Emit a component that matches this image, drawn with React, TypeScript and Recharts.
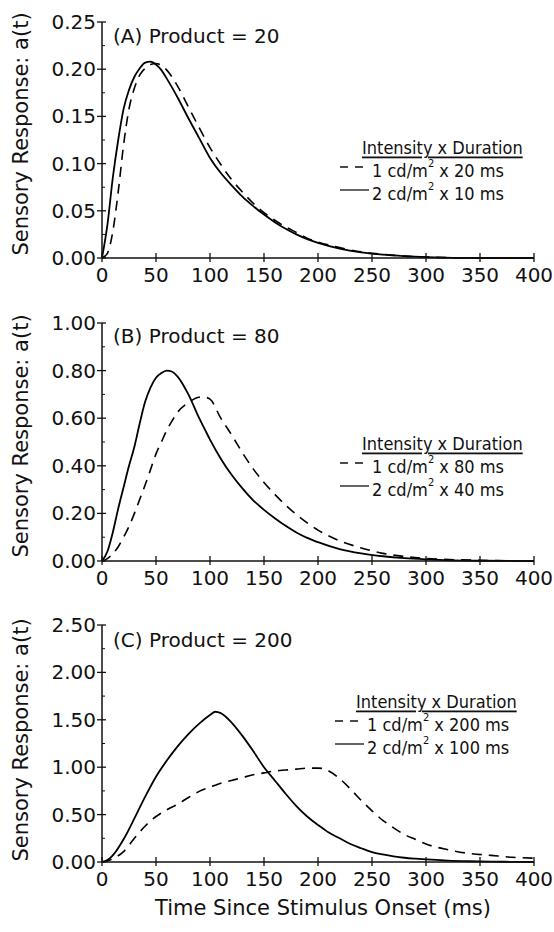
import { LineChart, Line, XAxis, YAxis } from 'recharts'

const X_TICKS = [0, 50, 100, 150, 200, 250, 300, 350, 400]

// (A) product = 20
const A_T = [0, 5, 10, 15, 20, 25, 30, 35, 40, 45, 50, 55, 60, 70, 80, 90, 100, 110, 120, 130, 140, 150, 160, 170, 180, 190, 200, 220, 240, 260, 280, 300, 350, 400]
const A_SOLID = [0, 0.035, 0.085, 0.125, 0.158, 0.178, 0.192, 0.201, 0.207, 0.208, 0.205, 0.199, 0.19, 0.17, 0.148, 0.127, 0.106, 0.09, 0.077, 0.065, 0.055, 0.046, 0.038, 0.031, 0.025, 0.02, 0.016, 0.01, 0.006, 0.0035, 0.002, 0.001, 0, 0]
const A_DASHED = [0, 0.005, 0.028, 0.07, 0.12, 0.158, 0.18, 0.194, 0.201, 0.205, 0.206, 0.204, 0.199, 0.182, 0.16, 0.138, 0.117, 0.099, 0.083, 0.07, 0.058, 0.048, 0.04, 0.033, 0.027, 0.021, 0.017, 0.011, 0.0065, 0.004, 0.002, 0.001, 0, 0]
const A_Y_TICKS = [0, 0.025, 0.05, 0.075, 0.1, 0.125, 0.15, 0.175, 0.2, 0.225, 0.25]

// (B) product = 80
const B_T = [0, 5, 10, 15, 20, 25, 30, 35, 40, 45, 50, 55, 60, 65, 70, 80, 90, 95, 100, 110, 120, 130, 140, 150, 160, 170, 180, 190, 200, 220, 240, 260, 280, 300, 350, 400]
const B_SOLID = [0, 0.04, 0.12, 0.22, 0.31, 0.4, 0.48, 0.58, 0.67, 0.73, 0.77, 0.79, 0.8, 0.795, 0.775, 0.7, 0.6, 0.555, 0.51, 0.43, 0.362, 0.305, 0.255, 0.215, 0.18, 0.148, 0.12, 0.097, 0.079, 0.05, 0.032, 0.02, 0.012, 0.007, 0.001, 0]
const B_DASHED = [0, 0.01, 0.03, 0.06, 0.1, 0.145, 0.2, 0.26, 0.32, 0.385, 0.45, 0.5, 0.55, 0.59, 0.625, 0.665, 0.688, 0.688, 0.68, 0.6, 0.53, 0.455, 0.387, 0.33, 0.28, 0.235, 0.195, 0.16, 0.13, 0.085, 0.055, 0.032, 0.019, 0.011, 0.003, 0]
const B_Y_TICKS = [0, 0.1, 0.2, 0.3, 0.4, 0.5, 0.6, 0.7, 0.8, 0.9, 1.0]

// (C) product = 200
const C_T = [0, 5, 10, 20, 30, 40, 50, 60, 70, 80, 90, 100, 105, 110, 120, 130, 140, 150, 160, 170, 180, 190, 200, 205, 210, 220, 230, 240, 250, 260, 270, 280, 290, 300, 320, 340, 360, 380, 400]
const C_SOLID = [0, 0.02, 0.07, 0.24, 0.46, 0.69, 0.9, 1.07, 1.22, 1.35, 1.46, 1.55, 1.585, 1.57, 1.47, 1.33, 1.17, 1.0, 0.86, 0.72, 0.59, 0.48, 0.39, 0.35, 0.31, 0.25, 0.19, 0.145, 0.105, 0.08, 0.06, 0.045, 0.035, 0.027, 0.015, 0.008, 0.004, 0.002, 0]
const C_DASHED = [0, 0.01, 0.035, 0.11, 0.25, 0.38, 0.48, 0.55, 0.61, 0.68, 0.745, 0.79, 0.81, 0.83, 0.86, 0.89, 0.92, 0.94, 0.96, 0.97, 0.98, 0.99, 0.99, 0.985, 0.96, 0.88, 0.77, 0.65, 0.54, 0.44, 0.36, 0.29, 0.24, 0.19, 0.13, 0.09, 0.07, 0.05, 0.04]
const C_Y_TICKS = [0, 0.25, 0.5, 0.75, 1.0, 1.25, 1.5, 1.75, 2.0, 2.25, 2.5]

const FONT = "'DejaVu Sans', 'Liberation Sans', sans-serif"
const LEG_FONT = "'DejaVu Sans Condensed', 'DejaVu Sans', sans-serif"
const INK = '#111'

function XTick(props: any) {
  const { x, y, payload } = props
  return (
    <g>
      <line x1={x} x2={x} y1={y - 5} y2={y + 4} stroke={INK} strokeWidth={1.3} />
      <text x={x} y={y + 17} textAnchor="middle" dominantBaseline="central" fontSize={20} fontFamily={FONT} fill={INK}>
        {payload.value}
      </text>
    </g>
  )
}

function isMajor(v: number, step: number) {
  const r = v / step
  return Math.abs(r - Math.round(r)) < 1e-6
}

function LeftTick(props: any) {
  const { x, y, payload, step } = props
  if (!isMajor(payload.value, step)) {
    return <line x1={x} x2={x + 3} y1={y} y2={y} stroke={INK} strokeWidth={1} />
  }
  return (
    <g>
      <line x1={x - 5} x2={x + 4} y1={y} y2={y} stroke={INK} strokeWidth={1.3} />
      <text x={x - 6} y={y} textAnchor="end" dominantBaseline="central" fontSize={20} fontFamily={FONT} fill={INK}>
        {payload.value.toFixed(2)}
      </text>
    </g>
  )
}

function RightTick(props: any) {
  const { x, y, payload, step } = props
  const len = isMajor(payload.value, step) ? 4 : 2.5
  return <line x1={x - len} x2={x} y1={y} y2={y} stroke={INK} strokeWidth={1} />
}

type PanelProps = {
  top: number
  plotTop: number
  plotBottom: number
  t: number[]
  solid: number[]
  dashed: number[]
  yMax: number
  yStep: number
  yTicks: number[]
}

function Panel({ top, plotTop, plotBottom, t, solid, dashed, yMax, yStep, yTicks }: PanelProps) {
  const data = t.map((time, i) => ({ t: time, solid: solid[i], dashed: dashed[i] }))
  const xAxisH = 30
  const height = plotBottom - top + xAxisH + 2
  return (
    <div style={{ position: 'absolute', left: 0, top, width: 554, height }}>
      <LineChart width={554} height={height} data={data} margin={{ top: plotTop - top, right: 20, bottom: 2, left: 0 }}>
        <XAxis
          xAxisId="b"
          dataKey="t"
          type="number"
          domain={[0, 400]}
          ticks={X_TICKS}
          interval={0}
          tickSize={0}
          tickMargin={0}
          tickLine={false}
          tick={(p: any) => <XTick {...p} />}
          axisLine={{ stroke: INK, strokeWidth: 1.5 }}
          height={xAxisH}
        />
        <XAxis
          xAxisId="top"
          orientation="top"
          dataKey="t"
          type="number"
          domain={[0, 400]}
          height={0}
          tick={false}
          tickLine={false}
          axisLine={{ stroke: INK, strokeWidth: 1.2 }}
        />
        <YAxis
          yAxisId="l"
          type="number"
          domain={[0, yMax]}
          ticks={yTicks}
          interval={0}
          width={102}
          tickSize={0}
          tickMargin={0}
          tickLine={false}
          tick={(p: any) => <LeftTick {...p} step={yStep} />}
          axisLine={{ stroke: INK, strokeWidth: 1.5 }}
        />
        <YAxis
          yAxisId="r"
          orientation="right"
          type="number"
          domain={[0, yMax]}
          ticks={yTicks}
          interval={0}
          width={0}
          tickSize={0}
          tickMargin={0}
          tickLine={false}
          tick={(p: any) => <RightTick {...p} step={yStep} />}
          axisLine={{ stroke: INK, strokeWidth: 1.2 }}
        />
        <Line
          xAxisId="b"
          yAxisId="l"
          type="monotone"
          dataKey="dashed"
          stroke="#000"
          strokeWidth={1.6}
          strokeDasharray="10 7"
          dot={false}
          isAnimationActive={false}
        />
        <Line
          xAxisId="b"
          yAxisId="l"
          type="monotone"
          dataKey="solid"
          stroke="#000"
          strokeWidth={1.8}
          dot={false}
          isAnimationActive={false}
        />
      </LineChart>
    </div>
  )
}

function YTitle({ cy }: { cy: number }) {
  const cx = 21
  return (
    <text x={cx} y={cy} transform={`rotate(-90 ${cx} ${cy})`} textAnchor="middle" dominantBaseline="central" fontSize={21} fontFamily={FONT} fill={INK}>
      Sensory Response: a(t)
    </text>
  )
}

function LegendBlock({ x, y, titleX, rows }: { x: number; y: number; titleX: number; rows: [string, string] }) {
  const r1 = y + 23
  const r2 = y + 46
  return (
    <g fontFamily={LEG_FONT} fontSize={18} fill={INK}>
      <text x={titleX} y={y} dominantBaseline="central" textDecoration="underline">
        Intensity x Duration
      </text>
      <line x1={x} x2={x + 29} y1={r1 - 3} y2={r1 - 3} stroke={INK} strokeWidth={1.3} strokeDasharray="8 7" />
      <text x={x + 32} y={r1} dominantBaseline="central">
        1 cd/m<tspan dy={-7} fontSize={11}>2</tspan>
        <tspan dy={7}> x {rows[0]} ms</tspan>
      </text>
      <line x1={x} x2={x + 29} y1={r2 - 3} y2={r2 - 3} stroke={INK} strokeWidth={1.3} />
      <text x={x + 32} y={r2} dominantBaseline="central">
        2 cd/m<tspan dy={-7} fontSize={11}>2</tspan>
        <tspan dy={7}> x {rows[1]} ms</tspan>
      </text>
    </g>
  )
}

export default function App() {
  return (
    <div style={{ position: 'absolute', left: 0, top: 0, width: 554, height: 932, background: '#fff' }}>
      <Panel top={0} plotTop={22} plotBottom={258} t={A_T} solid={A_SOLID} dashed={A_DASHED} yMax={0.25} yStep={0.05} yTicks={A_Y_TICKS} />
      <Panel top={300} plotTop={323} plotBottom={561} t={B_T} solid={B_SOLID} dashed={B_DASHED} yMax={1.0} yStep={0.2} yTicks={B_Y_TICKS} />
      <Panel top={600} plotTop={625} plotBottom={862} t={C_T} solid={C_SOLID} dashed={C_DASHED} yMax={2.5} yStep={0.5} yTicks={C_Y_TICKS} />
      <svg width={554} height={932} style={{ position: 'absolute', left: 0, top: 0, pointerEvents: 'none' }}>
        <YTitle cy={134} />
        <YTitle cy={436} />
        <YTitle cy={740} />
        <g fontFamily={FONT} fontSize={20} fill={INK}>
          <text x={113} y={36} dominantBaseline="central">(A) Product = 20</text>
          <text x={113} y={336} dominantBaseline="central">(B) Product = 80</text>
          <text x={113} y={640} dominantBaseline="central">(C) Product = 200</text>
        </g>
        <LegendBlock x={340} y={147} titleX={362} rows={['20', '10']} />
        <LegendBlock x={340} y={443} titleX={362} rows={['80', '40']} />
        <LegendBlock x={335} y={701} titleX={356} rows={['200', '100']} />
        <text x={323} y={908} textAnchor="middle" dominantBaseline="central" fontSize={21} fontFamily={FONT} fill={INK}>
          Time Since Stimulus Onset (ms)
        </text>
      </svg>
    </div>
  )
}
